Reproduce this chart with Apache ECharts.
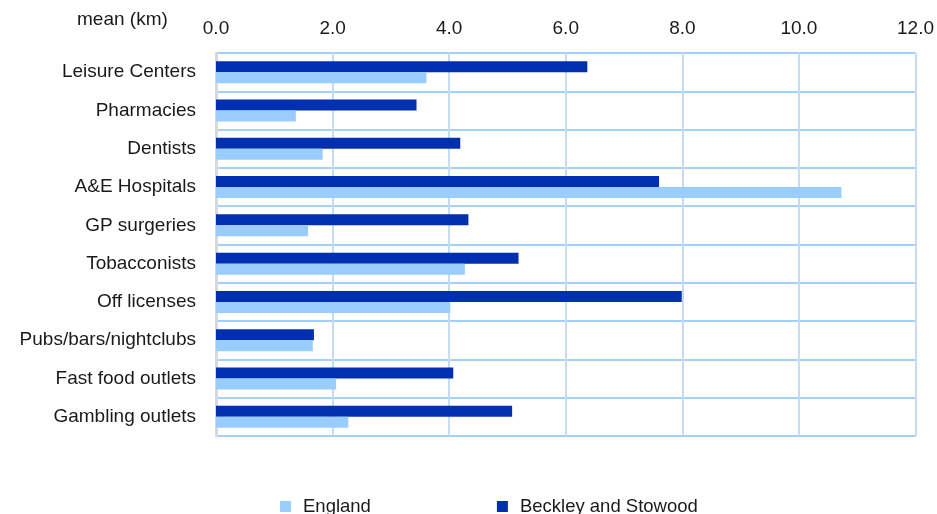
<!DOCTYPE html>
<html>
<head>
<meta charset="utf-8">
<script src="https://cdn.jsdelivr.net/npm/echarts@6/dist/echarts.min.js"></script>
<style>
html,body{margin:0;padding:0;background:#fff;}
#chart{width:937px;height:514px;}
</style>
</head>
<body>
<div id="chart"></div>
<script>
const categories = ['Leisure Centers','Pharmacies','Dentists','A&E Hospitals','GP surgeries','Tobacconists','Off licenses','Pubs/bars/nightclubs','Fast food outlets','Gambling outlets'];
const england = [3.61, 1.37, 1.83, 10.73, 1.58, 4.27, 4.02, 1.66, 2.06, 2.27];
const beckley = [6.37, 3.44, 4.19, 7.60, 4.33, 5.19, 7.99, 1.68, 4.07, 5.08];
const xTicks = {min: 0, max: 12, interval: 2};
const axisTitle = 'mean (km)';

const FONT = "'Liberation Sans', Arial, sans-serif";
const chart = echarts.init(document.getElementById('chart'), null, {renderer: 'canvas'});
chart.setOption({
  animation: false,
  backgroundColor: '#ffffff',
  textStyle: {fontFamily: FONT},
  title: {
    text: axisTitle,
    left: 72, top: 5,
    textStyle: {fontFamily: FONT, fontSize: 19, fontWeight: 'normal', color: '#1a1a1a'}
  },
  grid: {left: 216, right: 20, top: 53, bottom: 78, containLabel: false},
  legend: {
    data: ['England', 'Beckley and Stowood'],
    left: 275, top: 492,
    itemWidth: 11, itemHeight: 11, itemGap: 126,
    icon: 'rect',
    textStyle: {fontFamily: FONT, fontSize: 18.5, color: '#1a1a1a', padding: [0, 0, 0, 7]}
  },
  xAxis: {
    type: 'value', position: 'top',
    min: xTicks.min, max: xTicks.max, interval: xTicks.interval,
    axisLine: {show: false}, axisTick: {show: false},
    axisLabel: {fontFamily: FONT, fontSize: 19, color: '#1a1a1a', margin: 15,
                formatter: v => v.toFixed(1)},
    splitLine: {show: true, lineStyle: {color: '#c6dcf5', width: 2}}
  },
  yAxis: {
    type: 'category', data: categories, inverse: true,
    axisLine: {show: true, lineStyle: {color: '#d6d9dd', width: 3}},
    axisTick: {show: false},
    axisLabel: {fontFamily: FONT, fontSize: 19, color: '#1a1a1a', margin: 20},
    splitLine: {show: true, lineStyle: {color: '#a3cff9', width: 2}}
  },
  series: [
    {name: 'Beckley and Stowood', type: 'bar', data: beckley, barWidth: 11, barGap: '0%',
     itemStyle: {color: '#002fb0'}},
    {name: 'England', type: 'bar', data: england, barWidth: 11, barGap: '0%',
     itemStyle: {color: '#99ccff'}}
  ]
});
</script>
</body>
</html>
